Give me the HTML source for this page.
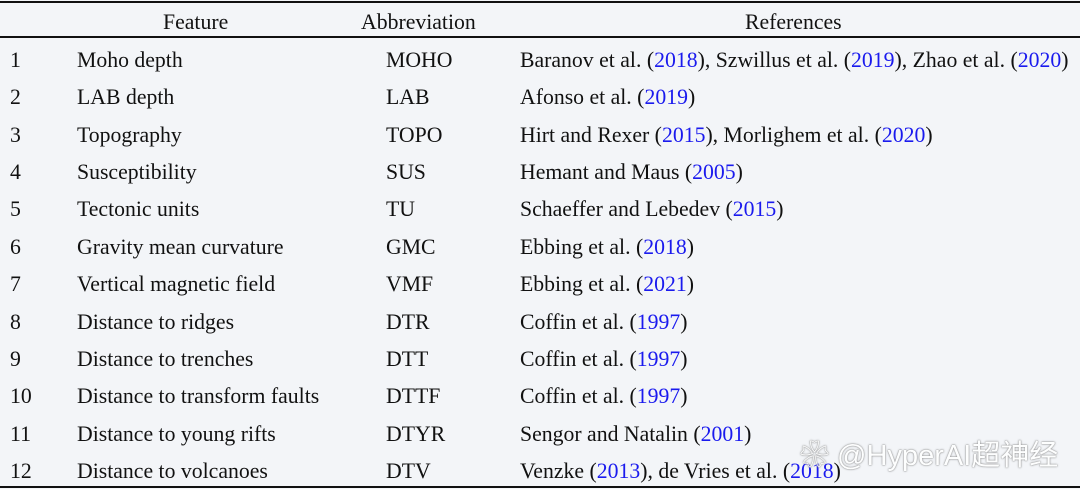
<!DOCTYPE html>
<html><head><meta charset="utf-8"><style>
body{margin:0;width:1080px;height:489px;background:#f3f5f8;overflow:hidden;position:relative;font-family:"Liberation Serif",serif;font-size:21.75px;color:#111}
.r{position:absolute;left:0;width:1080px;background:#111}
.t{position:absolute;white-space:nowrap;line-height:24px}
a{color:#1a1aee;text-decoration:none}
.wm{position:absolute;left:800px;top:432px;font-family:"Liberation Sans","Noto Sans CJK SC",sans-serif;font-size:29px;color:#fff;text-shadow:0 0 2px #888,0 0 1px #666;opacity:.9}
</style></head><body>
<div class="r" style="top:1px;height:2px"></div>
<div class="r" style="top:36px;height:2px"></div>
<div class="r" style="top:486px;height:2px"></div>
<div class="t" style="left:163px;top:10px">Feature</div>
<div class="t" style="left:361px;top:10px">Abbreviation</div>
<div class="t" style="left:745px;top:10px">References</div>
<div id="rows"></div>
<div class="wm">❀ @HyperAI超神经</div>
<script>
var d=[["Moho depth","MOHO",'Baranov et al. (<a>2018</a>), Szwillus et al. (<a>2019</a>), Zhao et al. (<a>2020</a>)'],
["LAB depth","LAB",'Afonso et al. (<a>2019</a>)'],
["Topography","TOPO",'Hirt and Rexer (<a>2015</a>), Morlighem et al. (<a>2020</a>)'],
["Susceptibility","SUS",'Hemant and Maus (<a>2005</a>)'],
["Tectonic units","TU",'Schaeffer and Lebedev (<a>2015</a>)'],
["Gravity mean curvature","GMC",'Ebbing et al. (<a>2018</a>)'],
["Vertical magnetic field","VMF",'Ebbing et al. (<a>2021</a>)'],
["Distance to ridges","DTR",'Coffin et al. (<a>1997</a>)'],
["Distance to trenches","DTT",'Coffin et al. (<a>1997</a>)'],
["Distance to transform faults","DTTF",'Coffin et al. (<a>1997</a>)'],
["Distance to young rifts","DTYR",'Sengor and Natalin (<a>2001</a>)'],
["Distance to volcanoes","DTV",'Venzke (<a>2013</a>), de Vries et al. (<a>2018</a>)']];
var h='';d.forEach(function(r,i){var y=48+i*37.36;
h+='<div class="t" style="left:10px;top:'+y+'px">'+(i+1)+'</div><div class="t" style="left:77px;top:'+y+'px">'+r[0]+'</div><div class="t" style="left:386px;top:'+y+'px">'+r[1]+'</div><div class="t" style="left:520px;top:'+y+'px">'+r[2]+'</div>';});
document.getElementById('rows').innerHTML=h;
</script>
</body></html>
